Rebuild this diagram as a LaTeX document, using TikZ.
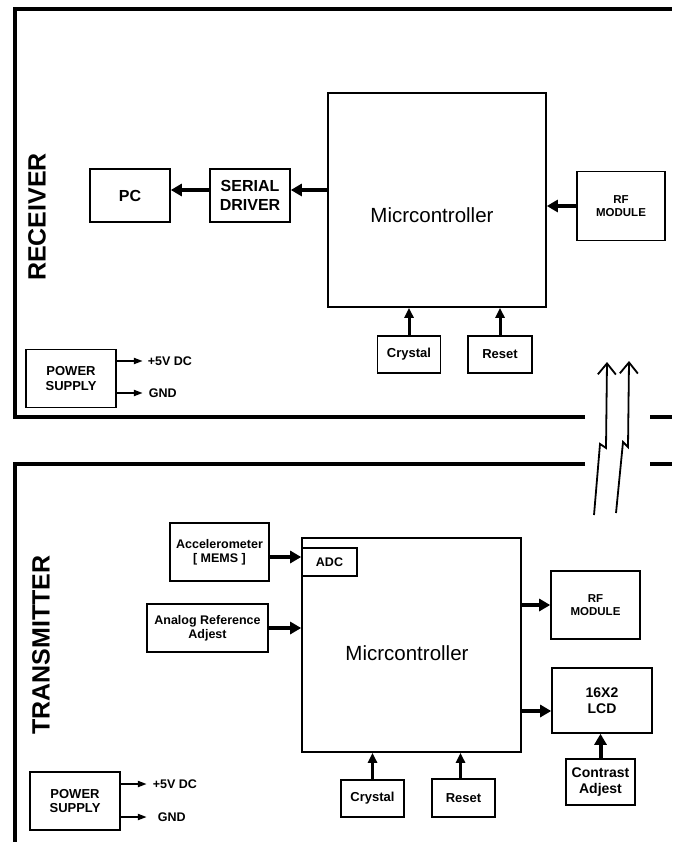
\documentclass[tikz,border=0pt]{standalone}
\usepackage{fontspec}
\setmainfont{Liberation Sans}
\usetikzlibrary{arrows.meta}

\newcommand{\pxfont}[1]{\fontsize{#1}{\dimexpr #1pt*23/20\relax}\selectfont}

\tikzset{
  blk/.style={draw, line width=1.6pt, inner sep=0pt, align=center, font=\bfseries},
  fat/.style={line width=4pt, -{Triangle[length=11pt,width=12pt]}},
  mid/.style={line width=3pt, -{Triangle[length=10pt,width=9pt]}},
  pin/.style={line width=2pt, -{Triangle[length=9pt,width=6pt]}},
  wave/.style={line width=1.8pt, -{Straight Barb[length=11pt,width=18pt]}},
  frame/.style={line width=4pt},
}

\begin{document}
\begin{tikzpicture}[x=1pt, y=-1pt]
\useasboundingbox (0,0) rectangle (672,842);

\begin{scope}[frame]
\draw (585,417) -- (15,417) -- (15,9) -- (672,9);
\draw (650,417) -- (672,417);
\draw (585,464) -- (15,464) -- (15,842);
\draw (650,464) -- (672,464);
\end{scope}

% receiver
\begin{scope}
\node[rotate=90, font=\bfseries\pxfont{25}] (rxname) at (37,217) {RECEIVER};
\node[blk, minimum width=218pt, minimum height=214pt] (rxmcu) at (437,200) {};
\node[font=\pxfont{20.5}] (rxmcutxt) at (432,215) {Micrcontroller};
\node[blk, minimum width=80pt, minimum height=53pt, font=\bfseries\pxfont{16}] (rxpc) at (130,195.5) {PC};
\node[blk, minimum width=80pt, minimum height=53pt, font=\bfseries\pxfont{16}] (rxsd) at (250,195.5) {SERIAL\\DRIVER};
\node[blk, minimum width=88pt, minimum height=69pt, font=\bfseries\pxfont{11.5}] (rxrf) at (621,206) {RF\\MODULE};
\node[blk, minimum width=63pt, minimum height=37pt, font=\bfseries\pxfont{13}] (rxxtal) at (409,354.5) {Crystal};
\node[blk, minimum width=64pt, minimum height=37pt, font=\bfseries\pxfont{13}] (rxrst) at (500,354.5) {Reset};
\node[blk, minimum width=90pt, minimum height=58pt, font=\bfseries\pxfont{13}] (rxps) at (71,378.5) {POWER\\SUPPLY};

\draw[fat] (rxmcu.west |- 0,190) -- (rxsd.east |- 0,190);
\draw[fat] (rxsd.west |- 0,190) -- (rxpc.east |- 0,190);
\draw[fat] (rxrf.west) -- (rxmcu.east |- rxrf.west);
\draw[mid] (rxxtal.north) -- (rxxtal.north |- rxmcu.south);
\draw[mid] (rxrst.north) -- (rxrst.north |- rxmcu.south);
\draw[pin] (rxps.east |- 0,361) -- ++(26,0) node[right, font=\bfseries\pxfont{12.5}, inner sep=4pt] (rxvcc) {+5V DC};
\draw[pin] (rxps.east |- 0,393) -- ++(26,0) node[right, font=\bfseries\pxfont{12.5}, inner sep=5pt] (rxgnd) {GND};
\end{scope}

% wireless link
\coordinate (la0) at (594,515);
\coordinate (la1) at (600,444);
\coordinate (la2) at (606,448);
\coordinate (la3) at (607,362);
\coordinate (lb0) at (616,513);
\coordinate (lb1) at (623,442);
\coordinate (lb2) at (628,447);
\coordinate (lb3) at (629,361);
\draw[wave] (la0) -- (la1) -- (la2) -- (la3);
\draw[wave] (lb0) -- (lb1) -- (lb2) -- (lb3);

% transmitter
\begin{scope}
\node[rotate=90, font=\bfseries\pxfont{25}] (txname) at (41,645) {TRANSMITTER};
\node[blk, minimum width=219pt, minimum height=214pt] (txmcu) at (411.5,645) {};
\node[font=\pxfont{20.5}] (txmcutxt) at (407,653) {Micrcontroller};
\node[blk, minimum width=55pt, minimum height=28pt, font=\bfseries\pxfont{12.5}] (txadc) at (329.5,562) {ADC};
\node[blk, minimum width=99pt, minimum height=58pt, font=\bfseries\pxfont{12.5}] (txacc) at (219.5,552) {Accelerometer\\{[} MEMS {]}};
\node[blk, minimum width=121pt, minimum height=48pt, font=\bfseries\pxfont{12.5}] (txref) at (207.5,628) {Analog Reference\\Adjest};
\node[blk, minimum width=89pt, minimum height=68pt, font=\bfseries\pxfont{11.5}] (txrf) at (595.5,605) {RF\\MODULE};
\node[blk, minimum width=100pt, minimum height=65pt, font=\bfseries\pxfont{14}] (txlcd) at (602,700.5) {16X2\\LCD};
\node[blk, minimum width=69pt, minimum height=46pt, font=\bfseries\pxfont{14}] (txcon) at (600.5,782) {Contrast\\Adjest};
\node[blk, minimum width=63pt, minimum height=37pt, font=\bfseries\pxfont{13}] (txxtal) at (372.5,798.5) {Crystal};
\node[blk, minimum width=63pt, minimum height=38pt, font=\bfseries\pxfont{13}] (txrst) at (463.5,798) {Reset};
\node[blk, minimum width=90pt, minimum height=58pt, font=\bfseries\pxfont{13}] (txps) at (75,801) {POWER\\SUPPLY};

\draw[fat] (txacc.east |- 0,557) -- (txadc.west |- 0,557);
\draw[fat] (txref.east) -- (txmcu.west |- txref.east);
\draw[fat] (txmcu.east |- txrf.west) -- (txrf.west);
\draw[fat] (txmcu.east |- 0,711) -- (txlcd.west |- 0,711);
\draw[fat] (txcon.north) -- (txcon.north |- txlcd.south);
\draw[mid] (txxtal.north) -- (txxtal.north |- txmcu.south);
\draw[mid] ([xshift=-3pt]txrst.north) -- ([xshift=-3pt]txrst.north |- txmcu.south);
\draw[pin] (txps.east |- 0,784) -- ++(26,0) node[right, font=\bfseries\pxfont{12.5}, inner sep=5pt] (txvcc) {+5V DC};
\draw[pin] (txps.east |- 0,817) -- ++(26,0) node[right, font=\bfseries\pxfont{12.5}, inner sep=10pt] (txgnd) {GND};
\end{scope}
\end{tikzpicture}
\end{document}
